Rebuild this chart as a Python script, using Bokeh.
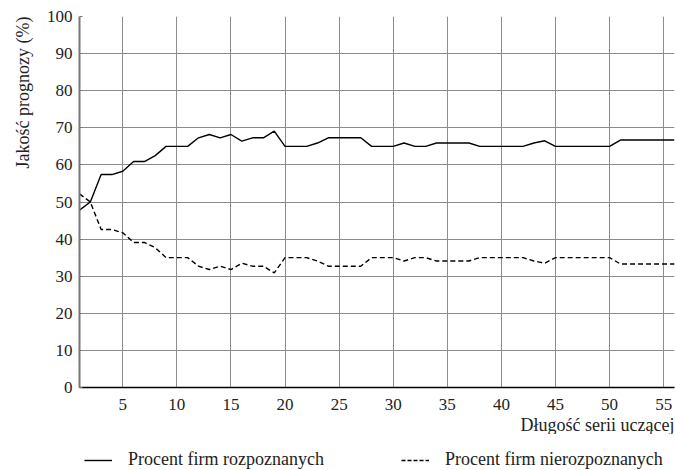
from bokeh.plotting import figure
from bokeh.layouts import column
from bokeh.models import ColumnDataSource, Legend, LegendItem, Title, FixedTicker, Range1d
from bokeh.embed import file_html
from bokeh.resources import INLINE

x_vals = list(range(1, 57))
rozpoznane = [47.8, 50.0, 57.4, 57.4, 58.3, 60.9, 60.9, 62.5, 65.0, 65.0,
              65.0, 67.3, 68.2, 67.3, 68.2, 66.4, 67.3, 67.3, 69.1, 65.0,
              65.0, 65.0, 65.9, 67.3, 67.3, 67.3, 67.3, 65.0, 65.0, 65.0,
              65.9, 65.0, 65.0, 65.9, 65.9, 65.9, 65.9, 65.0, 65.0, 65.0,
              65.0, 65.0, 65.9, 66.5, 65.0, 65.0, 65.0, 65.0, 65.0, 65.0,
              66.7, 66.7, 66.7, 66.7, 66.7, 66.7]
nierozpoznane = [52.2, 50.0, 42.6, 42.6, 41.7, 39.1, 39.1, 37.7, 35.0, 35.0,
                 35.0, 32.7, 31.8, 32.7, 31.8, 33.5, 32.7, 32.7, 30.9, 35.0,
                 35.0, 35.0, 34.1, 32.7, 32.7, 32.7, 32.7, 35.0, 35.0, 35.0,
                 34.1, 35.0, 35.0, 34.1, 34.1, 34.1, 34.1, 35.0, 35.0, 35.0,
                 35.0, 35.0, 34.1, 33.5, 35.0, 35.0, 35.0, 35.0, 35.0, 35.0,
                 33.3, 33.3, 33.3, 33.3, 33.3, 33.3]
x_ticks = [5, 10, 15, 20, 25, 30, 35, 40, 45, 50, 55]
y_ticks = [0, 10, 20, 30, 40, 50, 60, 70, 80, 90, 100]
series_names = ["Procent firm rozpoznanych", "Procent firm nierozpoznanych"]

src = ColumnDataSource(dict(x=x_vals, a=rozpoznane, b=nierozpoznane))

FONT = "'Liberation Serif'"
TXT = "#222222"

p = figure(frame_width=595, frame_height=371, output_backend="svg", toolbar_location=None,
           x_range=Range1d(1, 56), y_range=Range1d(0, 100),
           min_border_left=79, min_border_right=1, min_border_top=16, min_border_bottom=0)
p.outline_line_color = None
p.background_fill_color = "white"

p.line("x", "a", source=src, line_color="black", line_width=1.4)
p.line("x", "b", source=src, line_color="black", line_width=1.4, line_dash="5 3")

p.xaxis.ticker = FixedTicker(ticks=x_ticks)
p.yaxis.ticker = FixedTicker(ticks=y_ticks)
p.xgrid.ticker = FixedTicker(ticks=x_ticks)
p.ygrid.ticker = FixedTicker(ticks=y_ticks)
for g in (p.xgrid, p.ygrid):
    g.grid_line_color = "#8c8c8c"
    g.grid_line_width = 1
    g.grid_line_alpha = 1

p.xaxis.axis_line_color = "black"
p.xaxis.axis_line_width = 1.5
p.xaxis.major_tick_line_color = None
p.xaxis.minor_tick_line_color = None
p.xaxis.major_label_standoff = 5

p.yaxis.axis_line_color = "#777777"
p.yaxis.axis_line_width = 2
p.yaxis.major_tick_in = 3
p.yaxis.major_tick_out = 0
p.yaxis.major_tick_line_color = "#777777"
p.yaxis.minor_tick_line_color = None
p.yaxis.major_label_standoff = 7

for ax in (p.xaxis, p.yaxis):
    ax.major_label_text_font = FONT
    ax.major_label_text_font_size = "17px"
    ax.major_label_text_color = TXT

ytitle = Title(text="Jakość prognozy (%)", align="right", text_font=FONT,
               text_font_size="18px", text_font_style="normal", text_color=TXT,
               standoff=21, offset=0)
p.add_layout(ytitle, "left")

xtitle = Title(text="Długość serii uczącej", align="right", text_font=FONT,
               text_font_size="18px", text_font_style="normal", text_color=TXT,
               standoff=0, offset=0)
p.add_layout(xtitle, "below")

# legend strip below the chart (series drawn out of view, used only as legend proxies)
q = figure(width=675, height=36, output_backend="svg", toolbar_location=None,
           x_range=Range1d(0, 1), y_range=Range1d(0, 1), min_border=0)
q.axis.visible = False
q.grid.visible = False
q.outline_line_color = None
r1 = q.line("x", "a", source=src, line_color="black", line_width=1.4)
r2 = q.line("x", "b", source=src, line_color="black", line_width=1.4, line_dash="4 2")
legend = Legend(items=[LegendItem(label=series_names[0], renderers=[r1]),
                       LegendItem(label=series_names[1], renderers=[r2])],
                orientation="horizontal", location=(5, 0),
                label_text_font=FONT, label_text_font_size="18px", label_text_color=TXT,
                glyph_width=28, glyph_height=16, label_standoff=16, spacing=77,
                padding=0, margin=0, border_line_color=None, background_fill_alpha=0)
q.add_layout(legend, "center")

layout = column(p, q, spacing=0)
open("out.html", "w").write(file_html(layout, INLINE))
